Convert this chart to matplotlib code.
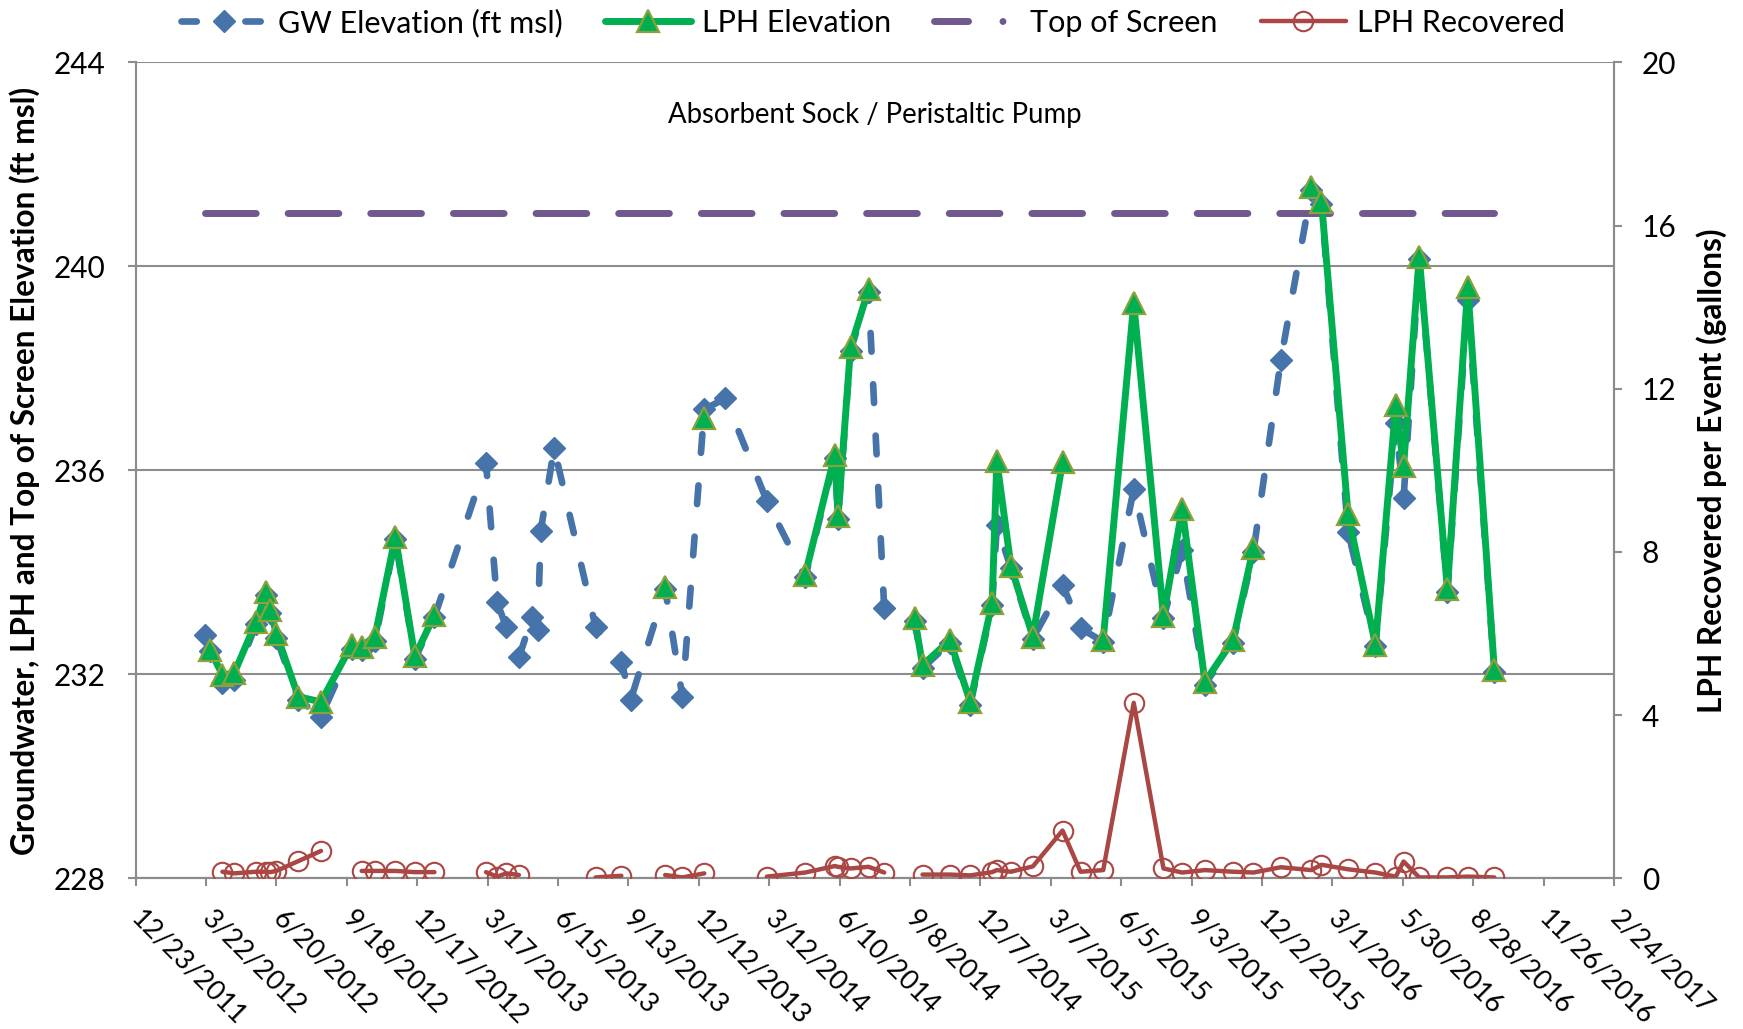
import datetime as dt
import numpy as np
import matplotlib
matplotlib.use("Agg")
import matplotlib.pyplot as plt
import matplotlib.dates as mdates
from matplotlib.lines import Line2D
from matplotlib.ticker import FixedLocator, FuncFormatter

# ---- monitoring data -------------------------------------------------------
sample_dates = [
    "2012-03-21", "2012-03-27", "2012-04-12", "2012-04-27", "2012-05-25",
    "2012-06-07", "2012-06-12", "2012-06-20", "2012-07-18", "2012-08-16",
    "2012-09-24", "2012-10-07", "2012-10-24", "2012-11-19", "2012-12-14",
    "2013-01-08", "2013-02-10", "2013-03-15", "2013-03-29", "2013-04-10",
    "2013-04-26", "2013-05-13", "2013-05-20", "2013-05-24", "2013-06-10",
    "2013-08-02", "2013-09-04", "2013-09-16", "2013-10-30", "2013-11-21",
    "2013-12-19", "2014-01-15", "2014-03-09", "2014-04-27", "2014-06-04",
    "2014-06-08", "2014-06-24", "2014-07-17", "2014-08-06", "2014-09-14",
    "2014-09-24", "2014-10-29", "2014-11-24", "2014-12-22", "2014-12-28",
    "2015-01-15", "2015-02-12", "2015-03-22", "2015-04-14", "2015-05-13",
    "2015-06-21", "2015-07-29", "2015-08-22", "2015-09-20", "2015-10-26",
    "2015-11-21", "2015-12-26", "2016-02-03", "2016-02-16", "2016-03-21",
    "2016-04-25", "2016-05-21", "2016-05-31", "2016-06-20", "2016-07-26",
    "2016-08-21", "2016-09-24",
]

# groundwater elevation (ft msl); None = not measured
gw_elevation = [
    232.78, 232.45, 231.82, 231.88, 232.98,
    233.55, 233.20, 232.72, 231.50, 231.17,
    232.50, 232.48, 232.65, 234.65, 232.30,
    233.12, None, 236.15, 233.42, 232.92,
    232.33, 233.12, 232.86, 234.82, 236.44,
    232.93, 232.25, 231.50, 233.68, 231.56,
    237.20, 237.41, 235.40, 233.90, 236.25,
    235.05, 238.35, 239.50, 233.30, 233.05,
    232.12, 232.62, 231.40, 233.35, 234.93,
    234.08, 232.70, 233.76, 232.90, 232.64,
    235.63, 233.10, 234.44, 231.80, 232.62,
    234.40, 238.16, 241.50, 241.22, 234.79,
    232.55, 236.93, 235.46, 240.15, 233.62,
    239.35, 232.05,
]

# LPH elevation (ft msl); None = no LPH measured
lph_elevation = [
    None, 232.48, 231.99, 232.02, 233.03,
    233.62, 233.26, 232.80, 231.56, 231.46,
    232.57, 232.54, 232.74, 234.70, 232.35,
    233.16, None, None, None, None,
    None, None, None, None, None,
    None, None, None, 233.72, None,
    237.02, None, None, 233.95, 236.31,
    235.10, 238.41, 239.55, None, 233.10,
    232.18, 232.67, 231.46, 233.40, 236.19,
    234.12, 232.74, 236.16, None, 232.68,
    239.28, 233.14, 235.25, 231.85, 232.67,
    234.48, None, 241.55, 241.27, 235.14,
    232.58, 237.28, 236.09, 240.19, 233.67,
    239.59, 232.09,
]

# LPH recovered per event (gallons); None = no recovery event
lph_recovered = [
    None, None, 0.16, 0.12, 0.16,
    0.16, 0.15, 0.18, 0.42, 0.67,
    None, 0.18, 0.18, 0.18, 0.15,
    0.15, None, 0.15, 0.04, 0.12,
    0.08, None, None, None, None,
    0.02, 0.06, None, 0.08, 0.02,
    0.12, None, 0.04, 0.14, 0.30,
    0.28, 0.24, 0.28, 0.14, None,
    0.09, 0.09, 0.07, 0.15, 0.20,
    0.16, 0.29, 1.17, 0.16, 0.20,
    4.30, 0.24, 0.14, 0.20, 0.16,
    0.14, 0.27, 0.20, 0.33, 0.22,
    0.14, 0.04, 0.41, 0.02, 0.02,
    0.04, 0.02,
]

screen_dates = ["2012-03-21", "2016-09-24"]
top_of_screen = [241.05, 241.05]

axis_start = "2011-12-23"
axis_end = "2017-02-24"
tick_step_days = 90
left_ticks = [228, 232, 236, 240, 244]
right_ticks = [0, 4, 8, 12, 16, 20]
method_note = "Absorbent Sock / Peristaltic Pump"
series_names = ["GW Elevation (ft msl)", "LPH Elevation", "Top of Screen",
                "LPH Recovered"]

# ---- styling ---------------------------------------------------------------
FONT = "Lato"
plt.rcParams["font.family"] = [FONT, "DejaVu Sans"]
plt.rcParams["lines.scale_dashes"] = False

C_GW = "#4673AA"
C_LPH = "#00B050"
C_LPH_EDGE = "#8CA03C"
C_TOS = "#70588F"
C_REC = "#AA4643"
C_AXIS = "#8C8C8C"

FS_YTICK = 21.5
FS_XTICK = 19.5
FS_LEG = 22
FS_LABEL = 22.8
FS_NOTE = 19.8


def to_num(dates):
    return mdates.date2num([dt.datetime.strptime(d, "%Y-%m-%d") for d in dates])


def to_arr(vals):
    return np.array([np.nan if v is None else v for v in vals], dtype=float)


x = to_num(sample_dates)
gw = to_arr(gw_elevation)
lph = to_arr(lph_elevation)
rec = to_arr(lph_recovered)
gw_ok = ~np.isnan(gw)

fig = plt.figure(figsize=(17.43, 10.29), dpi=100)
ax = fig.add_axes([0.0778, 0.1465, 0.926 - 0.0778, 0.9393 - 0.1465])
ax2 = ax.twinx()

gw_style = dict(color=C_GW, lw=4.8, dash_capstyle="round", marker="D",
                ms=11.5, mfc=C_GW, mec=C_GW)
lph_style = dict(color=C_LPH, lw=5.0, solid_capstyle="round",
                 solid_joinstyle="round", marker="^", ms=16, mfc=C_LPH,
                 mec=C_LPH_EDGE, mew=1.6)
tos_style = dict(color=C_TOS, lw=5.0, dash_capstyle="round")
rec_style = dict(color=C_REC, lw=3.2, solid_capstyle="round",
                 solid_joinstyle="round", marker="o", ms=14, mfc="none",
                 mec=C_REC, mew=1.5)

# groundwater: dashed, continuous between readings
ax.plot(x[gw_ok], gw[gw_ok], dashes=(13.5, 23.5), zorder=3, **gw_style)
ax.plot(x, lph, zorder=4, **lph_style)
ax.plot(to_num(screen_dates), top_of_screen, dashes=(36.5, 23.0), zorder=2,
        **tos_style)
ax2.plot(x, rec, zorder=5, **rec_style)

# ---- axes ------------------------------------------------------------------
x0 = mdates.date2num(dt.datetime.strptime(axis_start, "%Y-%m-%d"))
x1 = mdates.date2num(dt.datetime.strptime(axis_end, "%Y-%m-%d"))
ax.set_xlim(x0, x1)
ax.set_ylim(left_ticks[0], left_ticks[-1])
ax2.set_ylim(right_ticks[0], right_ticks[-1])

xticks = np.arange(x0, x1 + 0.5, tick_step_days)
ax.xaxis.set_major_locator(FixedLocator(xticks))


def fmt_date(v, pos=None):
    d = mdates.num2date(v)
    return f"{d.month}/{d.day}/{d.year}"


ax.xaxis.set_major_formatter(FuncFormatter(fmt_date))
ax.set_yticks(left_ticks)
ax2.set_yticks(right_ticks)

ax.grid(axis="y", color=C_AXIS, lw=1.5)
ax.set_axisbelow(True)

for a in (ax, ax2):
    a.spines["top"].set_visible(False)
    for side in ("left", "right", "bottom"):
        a.spines[side].set_color(C_AXIS)
        a.spines[side].set_linewidth(1.5)

ax.tick_params(axis="x", direction="out", length=6, width=1.5, color=C_AXIS,
               pad=20.5, labelsize=FS_XTICK)
ax.tick_params(axis="y", direction="out", length=6, width=1.5, color=C_AXIS,
               pad=15.5, labelsize=FS_YTICK)
ax2.tick_params(axis="y", direction="out", length=6, width=1.5, color=C_AXIS,
                pad=14, labelsize=FS_YTICK)

for lbl in ax.get_xticklabels():
    lbl.set_rotation(-45)
    lbl.set_ha("left")
    lbl.set_va("center")
    lbl.set_rotation_mode("anchor")

fig.text(0.0141, 0.5425,
         "Groundwater, LPH and Top of Screen Elevation (ft msl)",
         rotation=90, ha="center", va="center", fontsize=FS_LABEL,
         fontweight="bold")
fig.text(0.982, 0.5425, "LPH Recovered per Event (gallons)",
         rotation=90, ha="center", va="center", fontsize=FS_LABEL,
         fontweight="bold")

ax.text(0.5, 0.936, method_note, transform=ax.transAxes, ha="center",
        va="center", fontsize=FS_NOTE)

# legend keys: short dash patterns so each key reads like the plotted line
gw_key = Line2D([], [], dashes=(11.0, 35.0), **gw_style)
lph_key = Line2D([], [], **lph_style)
tos_key = Line2D([], [], dashes=(24.5, 24.8, 0.01, 100.0), **tos_style)
rec_key = Line2D([], [], **rec_style)

fig.legend([gw_key, lph_key, tos_key, rec_key], series_names,
           loc="center", bbox_to_anchor=(0.501, 0.978), ncol=4,
           frameon=False, fontsize=FS_LEG, handlelength=2.8,
           handletextpad=0.36, columnspacing=1.4, numpoints=1)

fig.savefig("out.png", dpi=100)
